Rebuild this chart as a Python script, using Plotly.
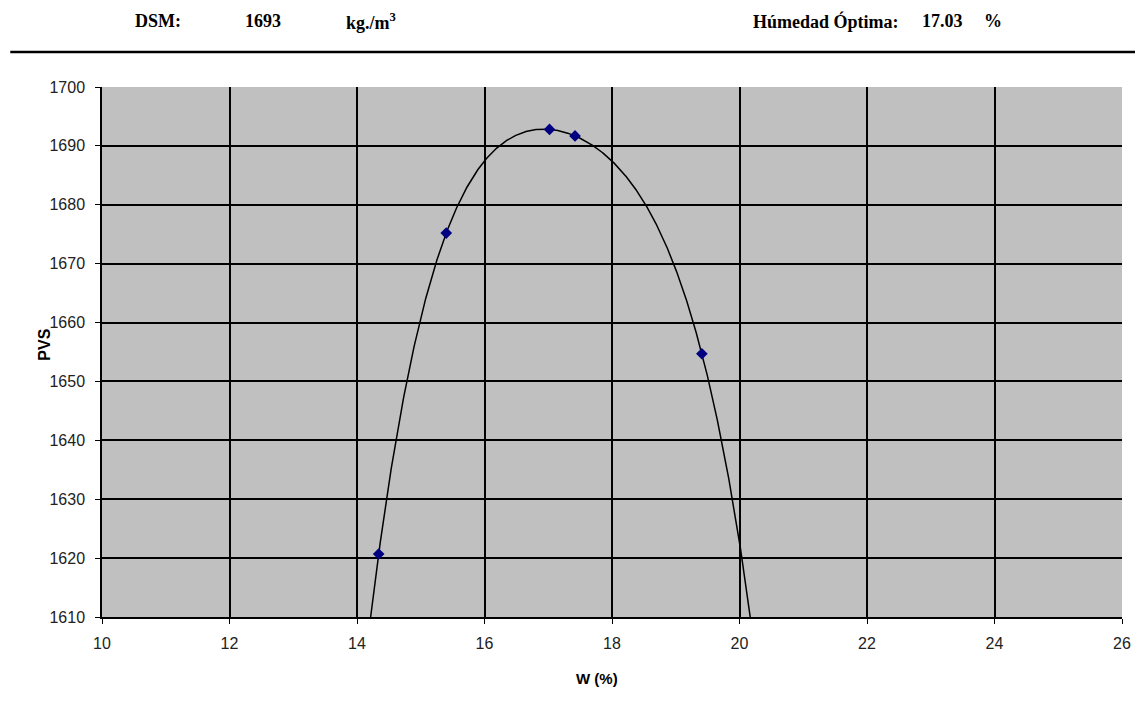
import numpy as np
import plotly.graph_objects as go

# Data
w_pct = [14.34, 15.40, 17.02, 17.42, 19.41]
pvs = [1620.7, 1675.2, 1692.8, 1691.7, 1654.7]

x_ticks = [10, 12, 14, 16, 18, 20, 22, 24, 26]
y_ticks = [1610, 1620, 1630, 1640, 1650, 1660, 1670, 1680, 1690, 1700]

dsm_value = "1693"
humedad_optima = "17.03"

# Polynomial trendline (like Excel) fitted to the data
coef = np.polyfit(w_pct, pvs, 4)
xt = np.linspace(14.0, 20.3, 800)
yt = np.polyval(coef, xt)

fig = go.Figure()
fig.add_trace(go.Scatter(x=xt, y=yt, mode="lines",
                         line=dict(color="black", width=1.5), hoverinfo="skip"))
fig.add_trace(go.Scatter(x=w_pct, y=pvs, mode="markers",
                         marker=dict(symbol="diamond", size=9, color="#000080")))

OFF = 8  # default page body margin
L, R, T, B = 102, 18, 87, 91
W, H = 1143, 708
pw, ph = W - L - R, H - T - B


def px(xp):
    return (xp - L) / pw


def py(yp):
    return (H - B - yp) / ph


axis_font = dict(family="Liberation Sans, Arial", size=16, color="#222")
fig.update_layout(
    width=W - OFF, height=H - OFF,
    margin=dict(l=L - OFF, r=R, t=T - OFF, b=B),
    paper_bgcolor="white", plot_bgcolor="#C0C0C0",
    showlegend=False,
    xaxis=dict(range=[10, 26], tickvals=x_ticks, showgrid=True, gridcolor="black",
               gridwidth=1.5, zeroline=False, showline=True, linecolor="black",
               linewidth=1.5, ticks="outside", ticklen=5, tickcolor="black",
               tickfont=axis_font, ticklabelstandoff=6),
    yaxis=dict(range=[1610, 1700], tickvals=y_ticks, showgrid=True, gridcolor="black",
               gridwidth=1.5, zeroline=False, showline=True, linecolor="black",
               linewidth=1.5, ticks="outside", ticklen=5, tickcolor="black",
               tickfont=axis_font, ticklabelstandoff=7),
)

serif = dict(family="Liberation Serif, Times New Roman", size=18, color="black")
ann = [
    ("DSM:", 133, 21),
    (dsm_value, 243, 21),
    ("kg./m<sup>3</sup>", 345, 21),
    ("Húmedad Óptima:", 753, 21),
    (humedad_optima, 922, 21),
    ("%", 985, 21),
]
for text, xp, yp in ann:
    fig.add_annotation(text="<b>" + text + "</b>", x=px(xp), y=py(yp), xref="paper", yref="paper",
                       xanchor="left", yanchor="middle", showarrow=False, font=serif)

fig.add_annotation(text="<b>W (%)</b>", x=px(598), y=py(689), xref="paper", yref="paper",
                   showarrow=False, font=dict(family="Liberation Sans, Arial", size=15, color="black"))
fig.add_annotation(text="<b>PVS</b>", x=px(33), y=py(345), xref="paper", yref="paper",
                   showarrow=False, textangle=-90,
                   font=dict(family="Liberation Sans, Arial", size=16, color="black"))

fig.add_shape(type="line", xref="paper", yref="paper", x0=px(10), x1=px(1143),
              y0=py(52), y1=py(52), line=dict(color="black", width=2.5))

fig.write_html("out.html")
